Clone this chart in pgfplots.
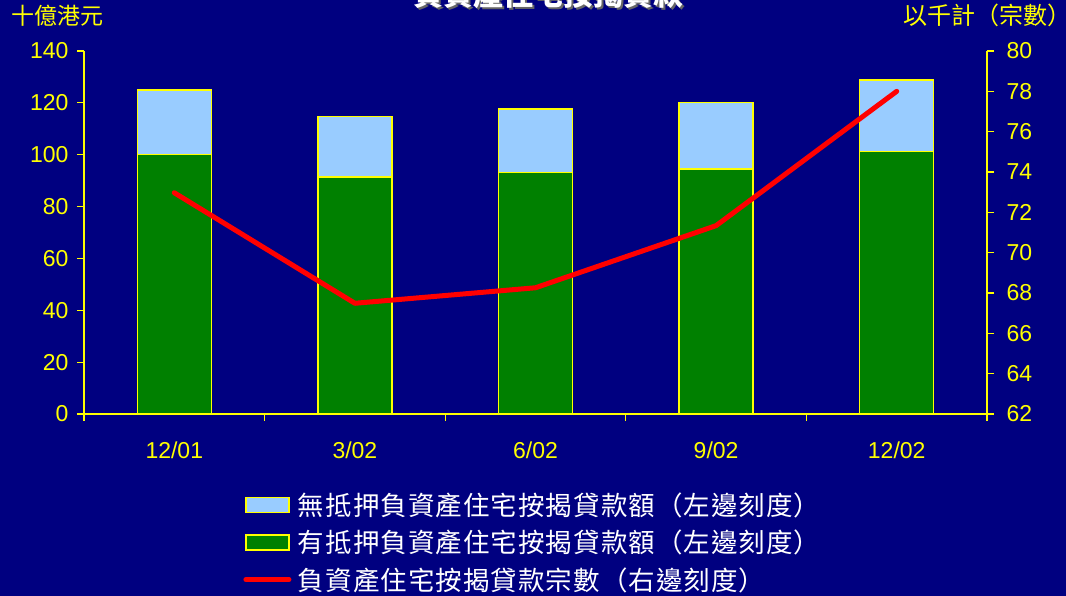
\documentclass[border=0pt]{standalone}
\usepackage{fontspec}
\setmainfont{Liberation Sans}
\newfontfamily\cjk{Noto Sans CJK TC}
\newfontfamily\cjkls{Noto Sans CJK TC}[LetterSpace=4]
\usepackage{pgfplots}
\pgfplotsset{compat=1.18}
\definecolor{navybg}{HTML}{000080}
\definecolor{yellowc}{HTML}{FFFF00}
\definecolor{greenc}{HTML}{008000}
\definecolor{lightb}{HTML}{99CCFF}
\definecolor{redc}{HTML}{FF0000}
\begin{document}
\begin{tikzpicture}[x=1pt,y=1pt]
\useasboundingbox (-84,-182) rectangle (982,414);
\fill[navybg] (-84,-182) rectangle (982,414);
\clip (-84,-182) rectangle (982,414);
\node[anchor=base, text=black!60, inner sep=0] at (466.5,406) {\cjk\bfseries\fontsize{30}{34}\selectfont 負資產住宅按揭貸款};
\node[anchor=base, text=white, inner sep=0] at (464.5,408) {\cjk\bfseries\fontsize{30}{34}\selectfont 負資產住宅按揭貸款};
\node[anchor=base west, text=yellowc, inner sep=0] at (-73,389) {\cjk\fontsize{23}{27}\selectfont 十億港元};
\node[anchor=base west, text=yellowc, inner sep=0] at (819,389) {\cjk\fontsize{24}{28}\selectfont 以千計（宗數）};
\begin{axis}[
  scale only axis, width=903pt, height=363pt,
  at={(0,0)}, anchor=south west,
  xmin=-0.5, xmax=4.5, ymin=0, ymax=140,
  axis y line*=left, axis x line*=bottom,
  axis line style={yellowc, line width=1.2pt, -},
  ybar stacked, bar width=74pt,
  xtick={-0.5,0.5,1.5,2.5,3.5,4.5}, xticklabels={},
  extra x ticks={0,1,2,3,4},
  extra x tick labels={12/01,3/02,6/02,9/02,12/02},
  extra x tick style={major tick length=0pt},
  ytick={0,20,...,140},
  tick align=outside, major tick length=7pt,
  tick style={yellowc, line width=1.2pt},
  ticklabel style={font=\fontsize{23}{27}\selectfont, text=yellowc},
  x tick label style={yshift=-24pt},
  y tick label style={xshift=-5pt},
  /pgf/number format/assume math mode=true,
  clip=false,
]
\addplot[fill=greenc, draw=yellowc, line width=1.5pt] coordinates {(0,100) (1,91.4) (2,93.2) (3,94.5) (4,101.2)};
\addplot[fill=lightb, draw=yellowc, line width=1.5pt] coordinates {(0,25) (1,23.3) (2,24.4) (3,25.7) (4,27.6)};
\end{axis}
\begin{axis}[
  scale only axis, width=903pt, height=363pt,
  at={(0,0)}, anchor=south west,
  xmin=-0.5, xmax=4.5, ymin=62, ymax=80,
  axis y line*=right, axis x line=none,
  axis line style={yellowc, line width=1.2pt, -},
  ytick={62,64,...,80},
  tick align=outside, major tick length=7pt,
  tick style={yellowc, line width=1.2pt},
  ticklabel style={font=\fontsize{23}{27}\selectfont, text=yellowc},
  y tick label style={xshift=9pt},
  /pgf/number format/assume math mode=true,
  clip=false,
  legend style={at={(0.173,-0.194)}, anchor=north west, draw=none, fill=none,
    text=white, font=\cjkls\fontsize{26.5}{30}\selectfont,
    nodes={inner sep=6.5pt}, row sep=0pt},
  legend cell align=left,
]
\addlegendimage{legend image code/.code={\draw[fill=lightb,draw=yellowc,line width=1.5pt] (0pt,-7.5pt) rectangle (43pt,7.5pt);}}
\addlegendentry{無抵押負資產住宅按揭貸款額（左邊刻度）}
\addlegendimage{legend image code/.code={\draw[fill=greenc,draw=yellowc,line width=1.5pt] (0pt,-7.5pt) rectangle (43pt,7.5pt);}}
\addlegendentry{有抵押負資產住宅按揭貸款額（左邊刻度）}
\addplot[redc, line width=5pt, line cap=round, line join=round, mark=none,
  legend image code/.code={\draw[redc,line width=5pt,line cap=round] (0pt,0pt) -- (43pt,0pt);}]
  coordinates {(0,72.97) (1,67.49) (2,68.26) (3,71.34) (4,78.0)};
\addlegendentry{負資產住宅按揭貸款宗數（右邊刻度）}
\end{axis}
\end{tikzpicture}
\end{document}
